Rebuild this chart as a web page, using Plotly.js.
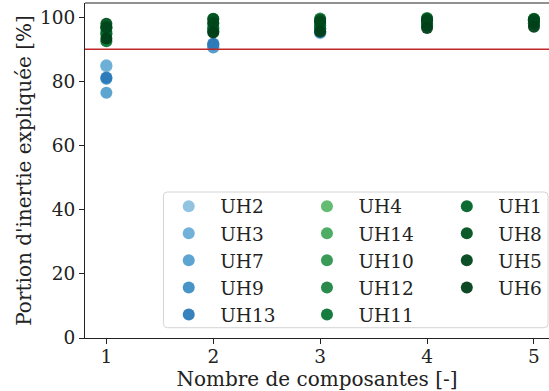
<!DOCTYPE html>
<html>
<head>
<meta charset="utf-8">
<script src="https://cdn.plot.ly/plotly-3.0.1.min.js"></script>
<style>html,body{margin:0;padding:0;background:#fff;}#chart{width:549px;height:391px;}</style>
</head>
<body>
<div id="chart"></div>
<script>
const components = [1, 2, 3, 4, 5];
const seriesNames = ["UH2","UH3","UH7","UH9","UH13","UH4","UH14","UH10","UH12","UH11","UH1","UH8","UH5","UH6"];
const UH2  = [84.6, 90.6, 95.0, 97.5, 98.0];
const UH3  = [85.0, 91.2, 95.6, 98.0, 98.4];
const UH7  = [76.4, 90.5, 96.0, 97.8, 98.2];
const UH9  = [80.8, 91.8, 96.5, 98.2, 98.5];
const UH13 = [81.2, 91.5, 95.3, 97.6, 98.0];
const UH4  = [95.5, 97.0, 97.5, 98.5, 98.8];
const UH14 = [94.5, 96.0, 98.0, 98.8, 99.0];
const UH10 = [96.5, 98.0, 98.8, 99.2, 99.3];
const UH12 = [97.0, 99.5, 99.6, 99.7, 99.5];
const UH11 = [92.5, 95.6, 96.5, 97.5, 98.0];
const UH1  = [95.0, 96.5, 97.2, 98.0, 98.5];
const UH8  = [97.9, 99.4, 99.2, 99.5, 99.3];
const UH5  = [96.8, 98.2, 98.5, 99.0, 99.0];
const UH6  = [93.3, 95.2, 95.5, 96.6, 97.0];
const seriesValues = [UH2, UH3, UH7, UH9, UH13, UH4, UH14, UH10, UH12, UH11, UH1, UH8, UH5, UH6];
const threshold = 90;
const yTicks = [0, 20, 40, 60, 80, 100];

const colors = ["#8cc0de","#6aaed6","#559fcd","#3e8ec4","#2c7ab8",
                "#5cb86b","#45a95c","#2f954f","#208543","#0b7535",
                "#006428","#00521f","#00471c","#003f18"];
// legend column of each series (matplotlib ncol=3, filled column-wise)
const legendColumn = ["legend","legend","legend","legend","legend",
                      "legend2","legend2","legend2","legend2","legend2",
                      "legend3","legend3","legend3","legend3"];

const font = "DejaVu Serif";
const tickFs = 18.5, titleFs = 20, legendFs = 18.5;
const traces = seriesNames.map((n, i) => ({
  type: "scatter", mode: "markers", name: n,
  x: components, y: seriesValues[i],
  marker: {size: 12, color: colors[i], opacity: 0.95},
  legend: legendColumn[i],
  hoverinfo: "skip"
}));

function legendAt(x) {
  return {
    x: x, y: 0.4486, xanchor: "left", yanchor: "top",
    orientation: "v", itemwidth: 53, tracegroupgap: 0,
    bgcolor: "rgba(0,0,0,0)", borderwidth: 0,
    font: {family: font, size: legendFs, color: "#222"}
  };
}

// rounded legend frame (paper coordinates)
const fx0 = 0.169, fx1 = 0.998, fy0 = 0.0307, fy1 = 0.4358, rx = 0.0086, ry = 0.0119;
const framePath = `M ${fx0+rx},${fy0} L ${fx1-rx},${fy0} Q ${fx1},${fy0} ${fx1},${fy0+ry} ` +
  `L ${fx1},${fy1-ry} Q ${fx1},${fy1} ${fx1-rx},${fy1} L ${fx0+rx},${fy1} Q ${fx0},${fy1} ${fx0},${fy1-ry} ` +
  `L ${fx0},${fy0+ry} Q ${fx0},${fy0} ${fx0+rx},${fy0} Z`;

const layout = {
  width: 549, height: 391,
  margin: {l: 84.5, r: 0, t: 2.6, b: 52.7, autoexpand: false},
  paper_bgcolor: "#fff", plot_bgcolor: "#fff",
  font: {family: font, size: tickFs, color: "#222"},
  showlegend: true,
  xaxis: {
    range: [0.8, 5.141], tickvals: components, ticktext: components.map(String),
    showgrid: false, zeroline: false, showline: true, linecolor: "#222", linewidth: 1,
    ticks: "outside", ticklen: 5, tickcolor: "#222", ticklabelstandoff: -3,
    tickfont: {family: font, size: tickFs, color: "#222"},
    title: {text: "Nombre de composantes [-]", font: {family: font, size: titleFs, color: "#222"}, standoff: 0}
  },
  yaxis: {
    range: [0, 104.4], tickvals: yTicks, ticktext: yTicks.map(String),
    showgrid: false, zeroline: false, showline: true, linecolor: "#222", linewidth: 1,
    ticks: "outside", ticklen: 5, tickcolor: "#222",
    tickfont: {family: font, size: tickFs, color: "#222"},
    title: {text: "Portion d'inertie expliquée [%]", font: {family: font, size: titleFs, color: "#222"}, standoff: 2}
  },
  legend: legendAt(0.1557),
  legend2: legendAt(0.4536),
  legend3: legendAt(0.755),
  shapes: [
    {type: "line", xref: "paper", x0: 0, x1: 1, yref: "y", y0: threshold, y1: threshold,
     line: {color: "#c0282a", width: 1.5}, layer: "above"},
    {type: "line", xref: "paper", x0: 0, x1: 1, yref: "paper", y0: 1, y1: 1,
     line: {color: "#222", width: 1}, layer: "above"},
    {type: "path", xref: "paper", yref: "paper", path: framePath,
     fillcolor: "rgba(255,255,255,0.8)", line: {color: "#d4d4d4", width: 1}, layer: "above"}
  ]
};

Plotly.newPlot("chart", traces, layout, {staticPlot: true});
</script>
</body>
</html>
